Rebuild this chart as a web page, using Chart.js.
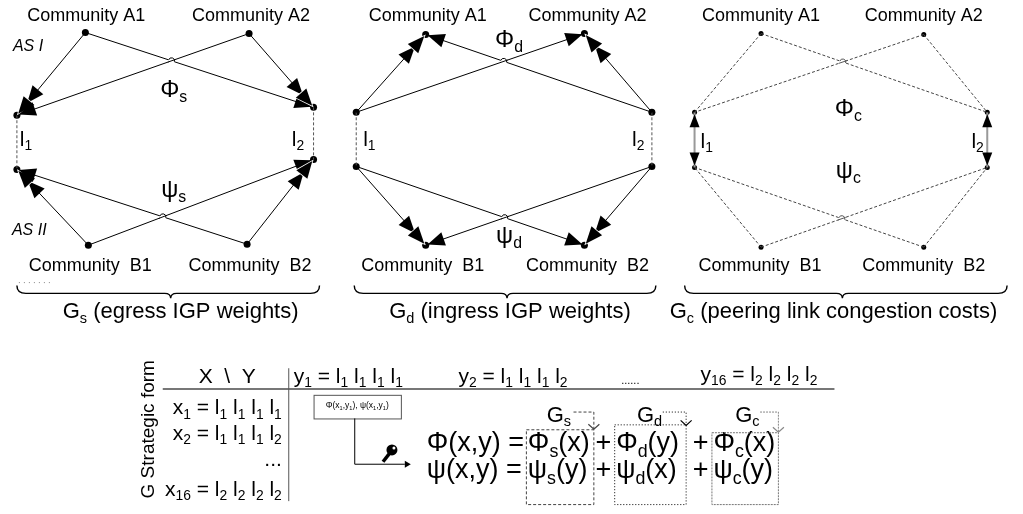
<!DOCTYPE html>
<html>
<head>
<meta charset="utf-8">
<script src="https://cdn.jsdelivr.net/npm/chart.js@4/dist/chart.umd.min.js"></script>
<style>
  html, body { margin: 0; background: #fff; }
  canvas { display: block; }
</style>
</head>
<body>
<canvas id="c" width="1023" height="514"></canvas>
<script>
// node order: A1, A2, l1 top, l1 bottom, l2 top, l2 bottom, B1, B2
const nodeNames = ['A1', 'A2', 'l1a', 'l1b', 'l2a', 'l2b', 'B1', 'B2']
const gsX = [82, 247, 13, 13, 312, 312, 85, 245]
const gsY = [29, 30, 113, 168, 105, 158, 245, 244]
const gdX = [425, 585, 355, 355, 653, 653, 425, 585]
const gdY = [31, 30, 110, 165, 110, 165, 245, 245]
const gcX = [763, 927, 696, 696, 991, 991, 763, 927]
const gcY = [30, 31, 110, 166, 110, 166, 247, 247]

// [from, to, number of arrow heads]
const gsEdges = [[0, 2, 2], [1, 2, 1], [0, 4, 1], [1, 4, 2], [6, 3, 2], [7, 3, 1], [6, 5, 1], [7, 5, 2]]
const gdEdges = [[2, 0, 2], [2, 1, 1], [4, 0, 1], [4, 1, 2], [3, 6, 2], [3, 7, 1], [5, 6, 1], [5, 7, 2]]
const gcEdges = [[0, 2, 0], [1, 2, 0], [0, 4, 0], [1, 4, 0], [6, 3, 0], [7, 3, 0], [6, 5, 0], [7, 5, 0]]
const peeringLinks = [[2, 3], [4, 5]]
// crossing edges (index into the edge lists): first one hops over the second
const crossings = [[2, 1], [5, 6]]

const FONT = '"Liberation Sans", Arial, sans-serif'

const pt = (xs, ys, i) => ({ x: xs[i], y: ys[i] })

const edgeSets = (xs, ys, edges, color, dash) => edges.map(([a, b]) => ({
    data: [pt(xs, ys, a), pt(xs, ys, b)],
    showLine: true, pointRadius: 0, borderWidth: 1,
    borderColor: color, borderDash: dash
}))

const linkSets = (xs, ys, color, dash, width) => peeringLinks.map(([a, b]) => ({
    data: [pt(xs, ys, a), pt(xs, ys, b)],
    showLine: true, pointRadius: 0, borderWidth: width,
    borderColor: color, borderDash: dash
}))

const nodeSet = (xs, ys, r) => ({
    data: nodeNames.map((n, i) => pt(xs, ys, i)),
    showLine: false, pointRadius: r, pointBackgroundColor: '#000', pointBorderWidth: 0
})

// text with "_" prefixed parts drawn as subscripts
function rich(ctx, x, y, parts, size, align = 'left', style = '') {
    const segs = parts.map(p => p.startsWith('_')
        ? { t: p.slice(1), s: size * 0.66, dy: size * 0.3 }
        : { t: p, s: size, dy: 0 })
    let w = 0
    segs.forEach(g => { ctx.font = `${style} ${g.s}px ${FONT}`; g.w = ctx.measureText(g.t).width; w += g.w })
    let cx = align === 'center' ? x - w / 2 : align === 'right' ? x - w : x
    ctx.textBaseline = 'middle'
    ctx.textAlign = 'left'
    ctx.fillStyle = '#000'
    segs.forEach(g => {
        ctx.font = `${style} ${g.s}px ${FONT}`
        ctx.fillText(g.t, cx, y + g.dy)
        cx += g.w
    })
}

function head(ctx, tx, ty, ux, uy, len, w, gap) {
    const bx = tx - ux * len, by = ty - uy * len
    ctx.beginPath()
    ctx.moveTo(tx, ty)
    ctx.lineTo(bx - uy * w / 2, by + ux * w / 2)
    ctx.lineTo(bx + uy * w / 2, by - ux * w / 2)
    ctx.closePath()
    if (gap) { ctx.strokeStyle = '#fff'; ctx.lineWidth = 1.6; ctx.setLineDash([]); ctx.stroke() }
    ctx.fillStyle = '#000'
    ctx.fill()
}

function brace(ctx, x1, x2, xm, yTop, yMid, yTip) {
    ctx.beginPath()
    ctx.moveTo(x1, yTop)
    ctx.quadraticCurveTo(x1, yMid, x1 + 9, yMid)
    ctx.lineTo(xm - 6, yMid)
    ctx.quadraticCurveTo(xm, yMid, xm, yTip)
    ctx.quadraticCurveTo(xm, yMid, xm + 6, yMid)
    ctx.lineTo(x2 - 9, yMid)
    ctx.quadraticCurveTo(x2, yMid, x2, yTop)
    ctx.strokeStyle = '#000'
    ctx.lineWidth = 1.4
    ctx.setLineDash([])
    ctx.stroke()
}

function line(ctx, pts, color, width, dash) {
    ctx.beginPath()
    pts.forEach(([x, y], i) => i ? ctx.lineTo(x, y) : ctx.moveTo(x, y))
    ctx.strokeStyle = color
    ctx.lineWidth = width
    ctx.setLineDash(dash || [])
    ctx.stroke()
    ctx.setLineDash([])
}

const diagram = {
    id: 'diagram',
    afterDatasetsDraw(chart) {
        const ctx = chart.ctx
        const X = v => chart.scales.x.getPixelForValue(v)
        const Y = v => chart.scales.y.getPixelForValue(v)
        ctx.save()

        // little hops where two edges cross
        const hops = (xs, ys, edges, color) => crossings.forEach(([i, j]) => {
            const [a, b] = edges[i], [c, d] = edges[j]
            const p = [X(xs[a]), Y(ys[a])], r = [X(xs[b]) - p[0], Y(ys[b]) - p[1]]
            const q = [X(xs[c]), Y(ys[c])], s = [X(xs[d]) - q[0], Y(ys[d]) - q[1]]
            const den = r[0] * s[1] - r[1] * s[0]
            const t = ((q[0] - p[0]) * s[1] - (q[1] - p[1]) * s[0]) / den
            const ix = p[0] + t * r[0], iy = p[1] + t * r[1]
            const ang = Math.atan2(r[1], r[0])
            ctx.beginPath()
            ctx.arc(ix, iy, 3.2, 0, Math.PI * 2)
            ctx.fillStyle = '#fff'
            ctx.fill()
            const sl = Math.hypot(s[0], s[1])
            line(ctx, [[ix - s[0] / sl * 4, iy - s[1] / sl * 4], [ix + s[0] / sl * 4, iy + s[1] / sl * 4]], color, 1)
            ctx.beginPath()
            ctx.arc(ix, iy, 3, ang + Math.PI, ang, r[0] < 0)
            ctx.strokeStyle = color
            ctx.lineWidth = 1
            ctx.stroke()
        })
        hops(gsX, gsY, gsEdges, '#000')
        hops(gdX, gdY, gdEdges, '#000')
        hops(gcX, gcY, gcEdges, '#555')

        // arrow heads on directed graphs
        const arrows = (xs, ys, edges) => edges.forEach(([a, b, n]) => {
            const x0 = X(xs[a]), y0 = Y(ys[a]), x1 = X(xs[b]), y1 = Y(ys[b])
            const d = Math.hypot(x1 - x0, y1 - y0), ux = (x1 - x0) / d, uy = (y1 - y0) / d
            const tx = x1 - ux * 2, ty = y1 - uy * 2
            if (n > 1) head(ctx, tx - ux * 14, ty - uy * 14, ux, uy, 17, 14, false)
            head(ctx, tx, ty, ux, uy, 17, 14, n > 1)
        })
        arrows(gsX, gsY, gsEdges)
        arrows(gdX, gdY, gdEdges)

        // double arrows on peering links of G_c
        peeringLinks.forEach(([a, b]) => {
            const x = X(gcX[a])
            head(ctx, x, Y(gcY[a]) + 2, 0, -1, 13, 10, false)
            head(ctx, x, Y(gcY[b]) - 2, 0, 1, 13, 10, false)
        })

        // graph labels
        const labels = [
            [83, 12, ['Community A1'], 18, 'center'],
            [249, 12, ['Community A2'], 18, 'center'],
            [87, 266, ['Community  B1'], 18, 'center'],
            [248, 266, ['Community  B2'], 18, 'center'],
            [171, 88, ['Φ', '_s'], 24, 'center'],
            [171, 189, ['ψ', '_s'], 24, 'center'],
            [16, 138, ['l', '_1'], 21, 'left'],
            [290, 138, ['l', '_2'], 21, 'left'],
            [427, 12, ['Community A1'], 18, 'center'],
            [588, 12, ['Community A2'], 18, 'center'],
            [422, 266, ['Community  B1'], 18, 'center'],
            [588, 266, ['Community  B2'], 18, 'center'],
            [509, 37, ['Φ', '_d'], 24, 'center'],
            [509, 236, ['ψ', '_d'], 24, 'center'],
            [362, 138, ['l', '_1'], 21, 'left'],
            [633, 138, ['l', '_2'], 21, 'left'],
            [763, 12, ['Community A1'], 18, 'center'],
            [927, 12, ['Community A2'], 18, 'center'],
            [762, 266, ['Community  B1'], 18, 'center'],
            [927, 266, ['Community  B2'], 18, 'center'],
            [851, 107, ['Φ', '_c'], 24, 'center'],
            [851, 170, ['ψ', '_c'], 24, 'center'],
            [702, 140, ['l', '_1'], 21, 'left'],
            [975, 140, ['l', '_2'], 21, 'left'],
            [178, 313, ['G', '_s', ' (egress IGP weights)'], 22, 'center'],
            [510, 313, ['G', '_d', ' (ingress IGP weights)'], 22, 'center'],
            [836, 313, ['G', '_c', ' (peering link congestion costs)'], 22, 'center']
        ]
        labels.forEach(([x, y, p, s, al]) => rich(ctx, X(x), Y(y), p, s, al))
        rich(ctx, X(9), Y(43), ['AS I'], 16, 'left', 'italic')
        rich(ctx, X(8), Y(230), ['AS II'], 16, 'left', 'italic')

        // braces
        brace(ctx, X(13), X(318), X(168), Y(286), Y(294), Y(299))
        brace(ctx, X(353), X(657), X(507), Y(286), Y(294), Y(299))
        brace(ctx, X(686), X(1011), X(845), Y(286), Y(294), Y(299))
        line(ctx, [[X(15), Y(283)], [X(47), Y(283)]], '#888', 1, [1, 4])

        // strategic form table
        const ts = 21
        line(ctx, [[X(160), Y(391)], [X(837), Y(391)]], '#777', 2)
        line(ctx, [[X(287), Y(370)], [X(287), Y(505)]], '#555', 1)
        rich(ctx, X(225), Y(379), ['X  \\  Y'], ts, 'center')
        rich(ctx, X(292), Y(379), ['y', '_1', ' = l', '_1', ' l', '_1', ' l', '_1', ' l', '_1'], ts)
        rich(ctx, X(458), Y(379), ['y', '_2', ' = l', '_1', ' l', '_1', ' l', '_1', ' l', '_2'], ts)
        rich(ctx, X(622), Y(383), ['......'], 11)
        rich(ctx, X(702), Y(377), ['y', '_16', ' = l', '_2', ' l', '_2', ' l', '_2', ' l', '_2'], ts)
        rich(ctx, X(280), Y(411), ['x', '_1', ' = l', '_1', ' l', '_1', ' l', '_1', ' l', '_1'], ts, 'right')
        rich(ctx, X(280), Y(437), ['x', '_2', ' = l', '_1', ' l', '_1', ' l', '_1', ' l', '_2'], ts, 'right')
        rich(ctx, X(280), Y(463), ['...'], ts, 'right')
        rich(ctx, X(280), Y(494), ['x', '_16', ' = l', '_2', ' l', '_2', ' l', '_2', ' l', '_2'], ts, 'right')

        ctx.save()
        ctx.translate(X(146), Y(432))
        ctx.rotate(-Math.PI / 2)
        rich(ctx, 0, 0, ['G Strategic form'], 19, 'center')
        ctx.restore()

        // cell box and connector
        ctx.strokeStyle = '#555'
        ctx.lineWidth = 1
        ctx.strokeRect(X(312) + 0.5, Y(397) + 0.5, X(400) - X(312), Y(421) - Y(397))
        rich(ctx, X(356), Y(408), ['Φ(x', '_1', ',y', '_1', '), ψ(x', '_1', ',y', '_1', ')'], 8.5, 'center')
        line(ctx, [[X(353) + 0.5, Y(421)], [X(353) + 0.5, Y(467) + 0.5], [X(404), Y(467) + 0.5]], '#000', 1)
        head(ctx, X(410), Y(467) + 0.5, 1, 0, 6, 7, false)

        // key icon
        ctx.beginPath()
        ctx.arc(X(391), Y(453), 5.5, 0, Math.PI * 2)
        ctx.fillStyle = '#000'
        ctx.fill()
        line(ctx, [[X(389), Y(456)], [X(382), Y(465)]], '#000', 3.5)
        ctx.beginPath()
        ctx.arc(X(393), Y(451), 1.5, 0, Math.PI * 2)
        ctx.fillStyle = '#fff'
        ctx.fill()

        // potential decomposition
        const fs = 27
        rich(ctx, X(426), Y(447), ['Φ(x,y) ='], fs)
        rich(ctx, X(426), Y(474), ['ψ(x,y) ='], fs)
        rich(ctx, X(528), Y(447), ['Φ', '_s', '(x)'], fs)
        rich(ctx, X(528), Y(474), ['ψ', '_s', '(y)'], fs)
        rich(ctx, X(604), Y(447), ['+'], fs, 'center')
        rich(ctx, X(604), Y(474), ['+'], fs, 'center')
        rich(ctx, X(617), Y(447), ['Φ', '_d', '(y)'], fs)
        rich(ctx, X(617), Y(474), ['ψ', '_d', '(x)'], fs)
        rich(ctx, X(702), Y(447), ['+'], fs, 'center')
        rich(ctx, X(702), Y(474), ['+'], fs, 'center')
        rich(ctx, X(715), Y(447), ['Φ', '_c', '(x)'], fs)
        rich(ctx, X(715), Y(474), ['ψ', '_c', '(y)'], fs)

        ctx.strokeStyle = '#444'
        ctx.lineWidth = 1
        ctx.setLineDash([3, 2])
        ctx.strokeRect(X(526) + 0.5, Y(432) + 0.5, X(594) - X(526), Y(508) - Y(432))
        ctx.setLineDash([1, 2])
        ctx.strokeStyle = '#000'
        ctx.strokeRect(X(615) + 0.5, Y(427) + 0.5, X(687) - X(615), Y(508) - Y(427))
        ctx.setLineDash([2, 1])
        ctx.strokeStyle = '#777'
        ctx.strokeRect(X(713) + 0.5, Y(435) + 0.5, X(780) - X(713), Y(508) - Y(435))
        ctx.setLineDash([])

        const tags = [
            [547, ['G', '_s'], 574, 594, 432, '#444', [3, 2]],
            [638, ['G', '_d'], 664, 687, 428, '#000', [1, 2]],
            [737, ['G', '_c'], 762, 780, 435, '#888', [2, 1]]
        ]
        tags.forEach(([gx, p, x0, x1, yb, col, dash]) => {
            rich(ctx, X(gx), Y(418), p, 22)
            line(ctx, [[X(x0), Y(414) + 0.5], [X(x1) + 0.5, Y(414) + 0.5], [X(x1) + 0.5, Y(yb)]], col, 1, dash)
            line(ctx, [[X(x1) - 5, Y(yb) - 5], [X(x1) + 0.5, Y(yb)], [X(x1) + 6, Y(yb) - 5]], col, 1.2)
        })

        ctx.restore()
    }
}

new Chart('c', {
    type: 'scatter',
    data: {
        datasets: [
            ...edgeSets(gsX, gsY, gsEdges, '#000', []),
            ...edgeSets(gdX, gdY, gdEdges, '#000', []),
            ...edgeSets(gcX, gcY, gcEdges, '#444', [3, 2]),
            ...linkSets(gsX, gsY, '#555', [3, 2], 1),
            ...linkSets(gdX, gdY, '#555', [3, 2], 1),
            ...linkSets(gcX, gcY, '#999', [], 2),
            nodeSet(gsX, gsY, 3.5),
            nodeSet(gdX, gdY, 3.5),
            nodeSet(gcX, gcY, 2.5)
        ]
    },
    options: {
        responsive: false,
        devicePixelRatio: 1,
        animation: false,
        events: [],
        layout: { padding: 0 },
        plugins: { legend: { display: false }, tooltip: { enabled: false } },
        scales: {
            x: { type: 'linear', min: 0, max: 1023, display: false },
            y: { type: 'linear', min: 0, max: 514, reverse: true, display: false }
        }
    },
    plugins: [diagram]
})
</script>
</body>
</html>
